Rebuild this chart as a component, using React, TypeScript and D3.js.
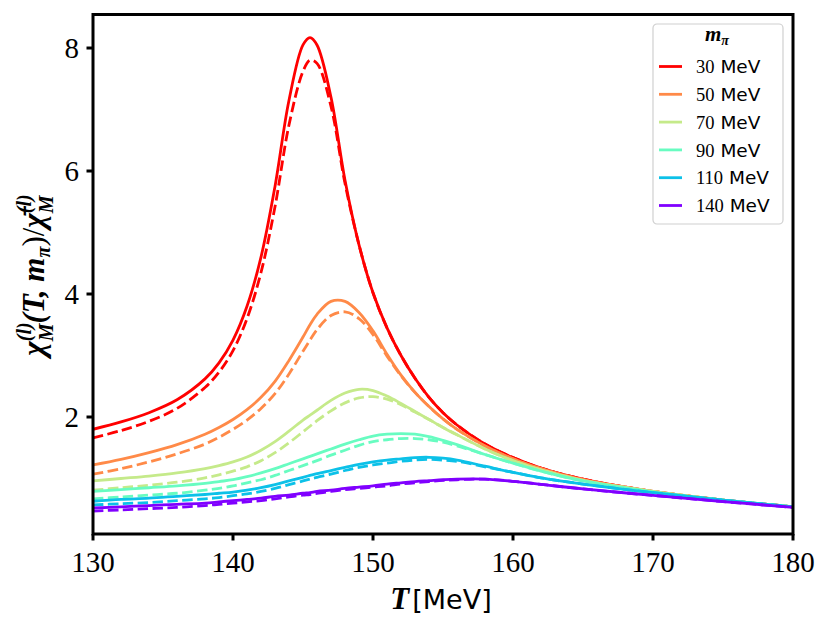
import * as d3 from "d3";

// ── Data ──────────────────────────────────────────────────────────────────────
const temps = [
  130, 132, 134, 136, 138, 139, 140, 141, 142, 143, 144, 145, 145.5, 146, 147, 148,
  149, 150, 151, 152, 153, 154, 155, 156, 158, 160, 162, 165, 170, 175, 180,
];

const masses = [30, 50, 70, 90, 110, 140];

const solid30 = [1.80, 1.92, 2.07, 2.28, 2.62, 2.88, 3.25, 3.80, 4.60, 5.75, 7.15, 8.05, 8.17, 8.05, 7.2, 5.85, 4.8, 4.02, 3.45, 3.0, 2.63, 2.32, 2.07, 1.87, 1.56, 1.34, 1.17, 0.99, 0.79, 0.65, 0.54];
const dash30  = [1.66, 1.78, 1.93, 2.14, 2.48, 2.73, 3.08, 3.60, 4.35, 5.42, 6.75, 7.62, 7.80, 7.75, 7.05, 5.8, 4.8, 4.02, 3.45, 3.0, 2.63, 2.32, 2.07, 1.87, 1.56, 1.34, 1.17, 0.99, 0.79, 0.65, 0.54];

const solid50 = [1.22, 1.31, 1.42, 1.55, 1.72, 1.83, 1.96, 2.12, 2.32, 2.58, 2.92, 3.30, 3.50, 3.67, 3.88, 3.88, 3.70, 3.40, 3.02, 2.68, 2.40, 2.17, 1.97, 1.80, 1.53, 1.32, 1.16, 0.98, 0.79, 0.65, 0.54];
const dash50  = [1.07, 1.16, 1.27, 1.40, 1.56, 1.67, 1.80, 1.95, 2.14, 2.38, 2.70, 3.07, 3.25, 3.42, 3.65, 3.71, 3.60, 3.34, 2.99, 2.67, 2.40, 2.17, 1.97, 1.80, 1.53, 1.32, 1.16, 0.98, 0.79, 0.65, 0.54];

const solid70 = [0.96, 1.00, 1.04, 1.09, 1.16, 1.21, 1.27, 1.35, 1.46, 1.60, 1.77, 1.95, 2.03, 2.11, 2.27, 2.39, 2.45, 2.43, 2.34, 2.22, 2.09, 1.96, 1.83, 1.71, 1.48, 1.29, 1.14, 0.97, 0.79, 0.65, 0.54];
const dash70  = [0.81, 0.85, 0.89, 0.94, 1.01, 1.06, 1.12, 1.19, 1.29, 1.42, 1.58, 1.76, 1.85, 1.94, 2.10, 2.23, 2.31, 2.33, 2.29, 2.20, 2.08, 1.96, 1.83, 1.71, 1.48, 1.29, 1.14, 0.97, 0.79, 0.65, 0.54];

const solid90 = [0.79, 0.82, 0.85, 0.88, 0.92, 0.95, 0.98, 1.03, 1.09, 1.16, 1.24, 1.32, 1.36, 1.40, 1.48, 1.56, 1.63, 1.69, 1.72, 1.73, 1.72, 1.68, 1.62, 1.55, 1.39, 1.25, 1.12, 0.96, 0.78, 0.65, 0.54];
const dash90  = [0.67, 0.70, 0.73, 0.76, 0.81, 0.84, 0.88, 0.93, 0.98, 1.05, 1.13, 1.21, 1.25, 1.29, 1.38, 1.46, 1.54, 1.60, 1.63, 1.65, 1.65, 1.63, 1.59, 1.53, 1.39, 1.25, 1.12, 0.96, 0.78, 0.65, 0.54];

const solid110 = [0.63, 0.66, 0.68, 0.71, 0.74, 0.76, 0.78, 0.81, 0.85, 0.90, 0.96, 1.02, 1.05, 1.08, 1.13, 1.18, 1.23, 1.27, 1.30, 1.32, 1.34, 1.345, 1.33, 1.30, 1.20, 1.10, 1.01, 0.91, 0.77, 0.65, 0.54];
const dash110  = [0.57, 0.59, 0.61, 0.64, 0.67, 0.69, 0.72, 0.75, 0.79, 0.84, 0.90, 0.96, 0.99, 1.02, 1.07, 1.13, 1.18, 1.22, 1.25, 1.28, 1.30, 1.31, 1.30, 1.28, 1.19, 1.10, 1.01, 0.91, 0.77, 0.65, 0.54];

const solid140 = [0.52, 0.54, 0.56, 0.58, 0.60, 0.62, 0.64, 0.66, 0.68, 0.71, 0.73, 0.76, 0.77, 0.79, 0.81, 0.84, 0.86, 0.88, 0.91, 0.93, 0.95, 0.965, 0.98, 0.99, 0.99, 0.955, 0.905, 0.83, 0.725, 0.625, 0.53];
const dash140  = [0.47, 0.49, 0.51, 0.53, 0.56, 0.58, 0.60, 0.62, 0.64, 0.67, 0.70, 0.73, 0.74, 0.76, 0.79, 0.82, 0.84, 0.86, 0.88, 0.91, 0.93, 0.95, 0.97, 0.98, 0.99, 0.955, 0.905, 0.83, 0.725, 0.625, 0.53];

const solids = [solid30, solid50, solid70, solid90, solid110, solid140];
const dashes = [dash30, dash50, dash70, dash90, dash110, dash140];

// matplotlib "rainbow", normalised over 30..140 MeV
const colors = ["#ff0000", "#ff8a48", "#c5ea8a", "#68fcc1", "#0cc1e8", "#8000ff"];

const xTicks = [130, 140, 150, 160, 170, 180];
const yTicks = [2, 4, 6, 8];

// ── Layout ────────────────────────────────────────────────────────────────────
const W = 830;
const H = 631;
const M = { top: 14.5, right: 37, bottom: 97, left: 93 };

const SERIF = "'Liberation Serif', 'DejaVu Serif', serif";
const SANS = "'DejaVu Sans', sans-serif";

export default function App() {
  const iw = W - M.left - M.right;
  const ih = H - M.top - M.bottom;

  const x = d3.scaleLinear().domain([130, 180]).range([0, iw]);
  const y = d3.scaleLinear().domain([0.0976, 8.545]).range([ih, 0]);

  const line = d3
    .line<number>()
    .x((_, i) => x(temps[i]))
    .y((d) => y(d))
    .curve(d3.curveCatmullRom.alpha(0.5));

  const lw = 2.8;

  return (
    <svg
      width={W}
      height={H}
      style={{ position: "absolute", left: 0, top: 0, background: "#fff" }}
    >
      <defs>
        <clipPath id="plot">
          <rect x={0} y={0} width={iw} height={ih} />
        </clipPath>
      </defs>

      <g transform={`translate(${M.left},${M.top})`}>
        {/* curves */}
        <g clipPath="url(#plot)" fill="none" strokeLinecap="butt">
          {masses.map((m, k) => (
            <g key={m}>
              <path d={line(solids[k]) ?? ""} stroke={colors[k]} strokeWidth={lw} />
              <path
                d={line(dashes[k]) ?? ""}
                stroke={colors[k]}
                strokeWidth={lw}
                strokeDasharray="10.4 4.5"
              />
            </g>
          ))}
        </g>

        {/* x ticks */}
        {xTicks.map((t) => (
          <g key={t} transform={`translate(${x(t)},${ih})`}>
            <line y1={0} y2={6.5} stroke="#000" strokeWidth={3} />
            <text
              y={38}
              textAnchor="middle"
              fontFamily={SERIF}
              fontSize={29}
              fill="#000"
            >
              {t}
            </text>
          </g>
        ))}

        {/* y ticks */}
        {yTicks.map((t) => (
          <g key={t} transform={`translate(0,${y(t)})`}>
            <line x1={-6.5} x2={0} stroke="#000" strokeWidth={3} />
            <text
              x={-14}
              dy="0.33em"
              textAnchor="end"
              fontFamily={SERIF}
              fontSize={29}
              fill="#000"
            >
              {t}
            </text>
          </g>
        ))}

        {/* frame */}
        <rect x={0} y={0} width={iw} height={ih} fill="none" stroke="#000" strokeWidth={3} />

        {/* legend */}
        <g transform={`translate(${iw - 140},${9.5})`}>
          <rect
            x={0}
            y={0}
            width={130}
            height={200}
            rx={4}
            fill="#fff"
            fillOpacity={0.8}
            stroke="#d0d0d0"
            strokeWidth={1.2}
          />
          <text
            x={64}
            y={17}
            textAnchor="middle"
            fontFamily={SERIF}
            fontStyle="italic"
            fontWeight="bold"
            fontSize={21}
          >
            m
            <tspan fontSize={14} dy={4}>π</tspan>
          </text>
          {masses.map((m, k) => (
            <g key={m} transform={`translate(0,${42.5 + k * 27.8})`}>
              <line x1={6} x2={29} stroke={colors[k]} strokeWidth={lw} />
              <text x={43} dy="0.36em" fontSize={18.5} fill="#000">
                <tspan fontFamily={SERIF}>{m}</tspan>
                <tspan fontFamily={SANS}> MeV</tspan>
              </text>
            </g>
          ))}
        </g>
      </g>

      {/* x label */}
      <text x={441} y={609} textAnchor="middle" fill="#000">
        <tspan fontFamily={SERIF} fontStyle="italic" fontWeight="bold" fontSize={31}>T</tspan>
        <tspan fontFamily={SANS} fontSize={27} dx={3}>[MeV]</tspan>
      </text>

      {/* y label */}
      <text
        transform="translate(44,275) rotate(-90)"
        textAnchor="middle"
        fill="#000"
        fontFamily={SERIF}
        fontWeight="bold"
        fontStyle="italic"
        fontSize={31}
      >
        <tspan>χ</tspan>
        <tspan fontSize={20} dy={-13}>(l)</tspan>
        <tspan fontSize={20} dx={-19} dy={22}>M</tspan>
        <tspan dy={-9}>(T, m</tspan>
        <tspan fontSize={20} dy={6}>π</tspan>
        <tspan dy={-6} fontStyle="normal" fontWeight="normal">)/</tspan>
        <tspan>χ̄</tspan>
        <tspan fontSize={20} dy={-13}>(l)</tspan>
        <tspan fontSize={20} dx={-19} dy={22}>M</tspan>
      </text>
    </svg>
  );
}
